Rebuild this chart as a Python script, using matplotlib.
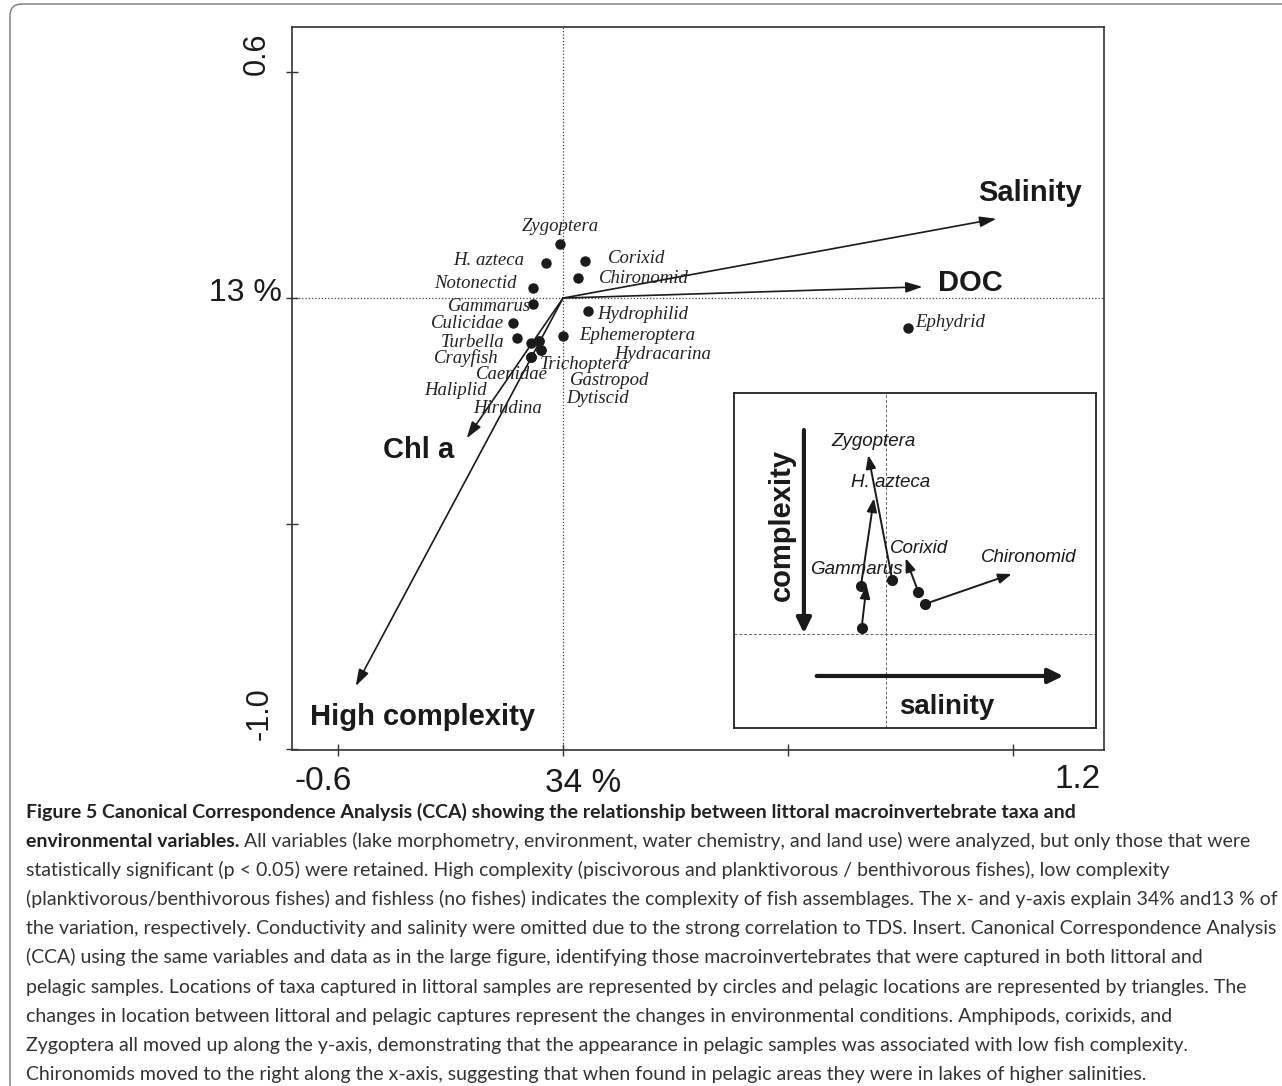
import matplotlib
matplotlib.use('Agg')
import matplotlib.pyplot as plt
from matplotlib.patches import FancyBboxPatch

W, H = 1282, 1086

# ---- main CCA: species scores ----
taxa = ['Zygoptera', 'H. azteca', 'Corixid', 'Chironomid', 'Notonectid', 'Gammarus',
        'Hydrophilid', 'Culicidae', 'Turbella', 'Ephemeroptera', 'Hydracarina',
        'Crayfish', 'Trichoptera', 'Caenidae', 'Gastropod', 'Haliplid', 'Dytiscid',
        'Hirudina', 'Ephydrid']
sp_x = [-0.007, -0.046, 0.058, 0.039, -0.081, -0.081, 0.066, -0.134, -0.122, 0.001,
        -0.063, -0.086, -0.059, -0.086, -0.063, -0.086, -0.059, -0.086, 0.919]
sp_y = [0.144, 0.094, 0.098, 0.053, 0.027, -0.017, -0.035, -0.066, -0.105, -0.100,
        -0.113, -0.119, -0.138, -0.156, -0.113, -0.156, -0.138, -0.156, -0.079]

# ---- main CCA: environmental vectors ----
env_names = ['Salinity', 'DOC', 'Chl a', 'High complexity']
env_x = [1.156, 0.959, -0.257, -0.553]
env_y = [0.211, 0.030, -0.373, -1.032]

# ---- insert: littoral -> pelagic shifts ----
ins_taxa = ['Gammarus', 'H. azteca', 'Zygoptera', 'Corixid', 'Chironomid']
lit_x = [-0.162, -0.167, 0.042, 0.215, 0.260]
lit_y = [0.042, 0.320, 0.360, 0.282, 0.200]
pel_x = [-0.129, -0.080, -0.118, 0.131, 0.838]
pel_y = [0.327, 0.905, 1.193, 0.505, 0.400]

# label placement (layout only)
sp_lab = {
    'Zygoptera': (-0.008, 0.191, 'center'), 'H. azteca': (-0.104, 0.099, 'right'),
    'Corixid': (0.120, 0.106, 'left'), 'Chironomid': (0.096, 0.053, 'left'),
    'Notonectid': (-0.125, 0.040, 'right'), 'Gammarus': (-0.085, -0.022, 'right'),
    'Hydrophilid': (0.091, -0.045, 'left'), 'Culicidae': (-0.157, -0.068, 'right'),
    'Turbella': (-0.157, -0.117, 'right'), 'Ephemeroptera': (0.043, -0.100, 'left'),
    'Hydracarina': (0.136, -0.149, 'left'), 'Crayfish': (-0.171, -0.159, 'right'),
    'Trichoptera': (-0.061, -0.176, 'left'), 'Caenidae': (-0.136, -0.202, 'center'),
    'Gastropod': (0.019, -0.218, 'left'), 'Haliplid': (-0.203, -0.245, 'right'),
    'Dytiscid': (0.008, -0.266, 'left'), 'Hirudina': (-0.147, -0.295, 'center'),
    'Ephydrid': (0.939, -0.064, 'left'),
}
env_lab = [(1.245, 0.279), (1.087, 0.041), (-0.385, -0.404), (-0.376, -1.114)]
ins_lab = [(-0.195, 0.433), (0.033, 1.009), (-0.085, 1.282), (0.222, 0.571), (0.953, 0.509)]

caption = [
    'All variables (lake morphometry, environment, water chemistry, and land use) were analyzed, but only those that were',
    'statistically significant (p < 0.05) were retained. High complexity (piscivorous and planktivorous / benthivorous fishes), low complexity',
    '(planktivorous/benthivorous fishes) and fishless (no fishes) indicates the complexity of fish assemblages. The x- and y-axis explain 34% and13 % of',
    'the variation, respectively. Conductivity and salinity were omitted due to the strong correlation to TDS. Insert. Canonical Correspondence Analysis',
    '(CCA) using the same variables and data as in the large figure, identifying those macroinvertebrates that were captured in both littoral and',
    'pelagic samples. Locations of taxa captured in littoral samples are represented by circles and pelagic locations are represented by triangles. The',
    'changes in location between littoral and pelagic captures represent the changes in environmental conditions. Amphipods, corixids, and',
    'Zygoptera all moved up along the y-axis, demonstrating that the appearance in pelagic samples was associated with low fish complexity.',
    'Chironomids moved to the right along the x-axis, suggesting that when found in pelagic areas they were in lakes of higher salinities.',
]
title1 = 'Figure 5 Canonical Correspondence Analysis (CCA) showing the relationship between littoral macroinvertebrate taxa and'
title2 = 'environmental variables.'

SANS = ['Liberation Sans', 'DejaVu Sans']
SERIF = ['Liberation Serif', 'DejaVu Serif']
INK = '#1a1a1a'

fig = plt.figure(figsize=(W / 100, H / 100), dpi=100)


def fx(px):
    return px / W


def fy(py):
    return 1 - py / H


# page frame with rounded corner
fig.add_artist(FancyBboxPatch((10, -10), 1300, 1092, boxstyle='round,pad=0,rounding_size=12',
                              transform=None, fill=False, ec='#777777', lw=1.0))

# ---- main axes ----
ax = fig.add_axes([fx(292), fy(750), (1104 - 292) / W, (750 - 27) / H])
ax.set_xlim(-0.723, 1.443)
ax.set_ylim(-1.202, 0.721)
ax.set_xticks([-0.6, 0, 0.6, 1.2])
ax.set_yticks([0.6, 0, -0.6, -1.2])
ax.tick_params(direction='inout', length=9, width=1, color='#333',
               labelbottom=False, labelleft=False)
for s in ax.spines.values():
    s.set_color('#333')
    s.set_linewidth(1.2)

ax.axhline(0, color='#444', lw=0.9, ls=(0, (1, 1.6)), zorder=1)
ax.axvline(0, color='#444', lw=0.9, ls=(0, (1, 1.6)), zorder=1)

big_head = '-|>,head_length=0.5,head_width=0.16'
for name, ex, ey, (lx, ly) in zip(env_names, env_x, env_y, env_lab):
    ax.annotate('', xy=(ex, ey), xytext=(0, 0),
                arrowprops=dict(arrowstyle=big_head, color=INK, lw=1.2,
                                mutation_scale=20, shrinkA=0, shrinkB=0))
    ax.text(lx, ly, name, ha='center', va='center', fontsize=21,
            fontweight='bold', family=SANS, color=INK)

ax.plot(sp_x, sp_y, 'o', color=INK, ms=6.5, zorder=3)
for t in taxa:
    lx, ly, ha = sp_lab[t]
    ax.text(lx, ly, t, ha=ha, va='center', fontsize=13.5, style='italic',
            family=SERIF, color='#222')

# axis labels (placed like the original figure)
fig.text(fx(257), fy(54), '0.6', rotation=90, ha='center', va='center', fontsize=22, family=SANS, color=INK)
fig.text(fx(282), fy(293), '13 %', ha='right', va='center', fontsize=23, family=SANS, color=INK)
fig.text(fx(260), fy(714), '-1.0', rotation=90, ha='center', va='center', fontsize=22, family=SANS, color=INK)
fig.text(fx(323), fy(781), '-0.6', ha='center', va='center', fontsize=24, family=SANS, color=INK)
fig.text(fx(583), fy(783), '34 %', ha='center', va='center', fontsize=24, family=SANS, color=INK)
fig.text(fx(1078), fy(779), '1.2', ha='center', va='center', fontsize=24, family=SANS, color=INK)

# ---- insert ----
ins = fig.add_axes([fx(734), fy(728), (1096 - 734) / W, (728 - 393) / H])
ins.set_xlim(-1.013, 1.4)
ins.set_ylim(-0.627, 1.607)
ins.set_xticks([])
ins.set_yticks([])
for s in ins.spines.values():
    s.set_color('#222')
    s.set_linewidth(1.3)
ins.axhline(0, color='#666', lw=0.7, ls=(0, (3, 2)))
ins.axvline(0, color='#666', lw=0.7, ls=(0, (3, 2)))

small_head = '-|>,head_length=0.4,head_width=0.15'
for name, x0, y0, x1, y1, (lx, ly) in zip(ins_taxa, lit_x, lit_y, pel_x, pel_y, ins_lab):
    ins.annotate('', xy=(x1, y1), xytext=(x0, y0),
                 arrowprops=dict(arrowstyle=small_head, color=INK, lw=1.4,
                                 mutation_scale=20, shrinkA=0, shrinkB=0))
    ins.text(lx, ly, name, ha='center', va='center', fontsize=13.5,
             style='italic', family=SANS, color=INK)
ins.plot(lit_x, lit_y, 'o', color=INK, ms=7, zorder=3)

thick_head = '-|>,head_length=0.45,head_width=0.22'
ins.annotate('', xy=(-0.547, 0.005), xytext=(-0.547, 1.36),
             arrowprops=dict(arrowstyle=thick_head, color=INK, lw=3,
                             mutation_scale=20, shrinkA=0, shrinkB=0))
ins.text(-0.695, 0.727, 'complexity', rotation=90, ha='center', va='center',
         fontsize=21, fontweight='bold', family=SANS, color=INK)
ins.annotate('', xy=(1.182, -0.28), xytext=(-0.462, -0.28),
             arrowprops=dict(arrowstyle=thick_head, color=INK, lw=3,
                             mutation_scale=20, shrinkA=0, shrinkB=0))
ins.text(0.405, -0.485, 'salinity', ha='center', va='center',
         fontsize=20, fontweight='bold', family=SANS, color=INK)

# ---- caption ----
CAP = ['Lato', 'DejaVu Sans']
renderer = fig.canvas.get_renderer()
probe = fig.text(0, 0, caption[3], fontsize=13, family=CAP)
w = probe.get_window_extent(renderer).width
probe.remove()
cfs = 13 * (1272 - 26) / w

x0 = 26
base0 = 818
step = 29.1
fig.text(fx(x0), fy(base0), title1, fontsize=cfs, fontweight='bold', family=CAP,
         va='baseline', color='#222')
b = fig.text(fx(x0), fy(base0 + step), title2, fontsize=cfs, fontweight='bold',
             family=CAP, va='baseline', color='#222')
bw = b.get_window_extent(renderer).width
fig.text(fx(x0 + bw + cfs * 0.35), fy(base0 + step), caption[0], fontsize=cfs,
         family=CAP, va='baseline', color='#333')
for i, line in enumerate(caption[1:]):
    fig.text(fx(x0), fy(base0 + step * (i + 2)), line, fontsize=cfs, family=CAP,
             va='baseline', color='#333')

fig.savefig('out.png', dpi=100)
